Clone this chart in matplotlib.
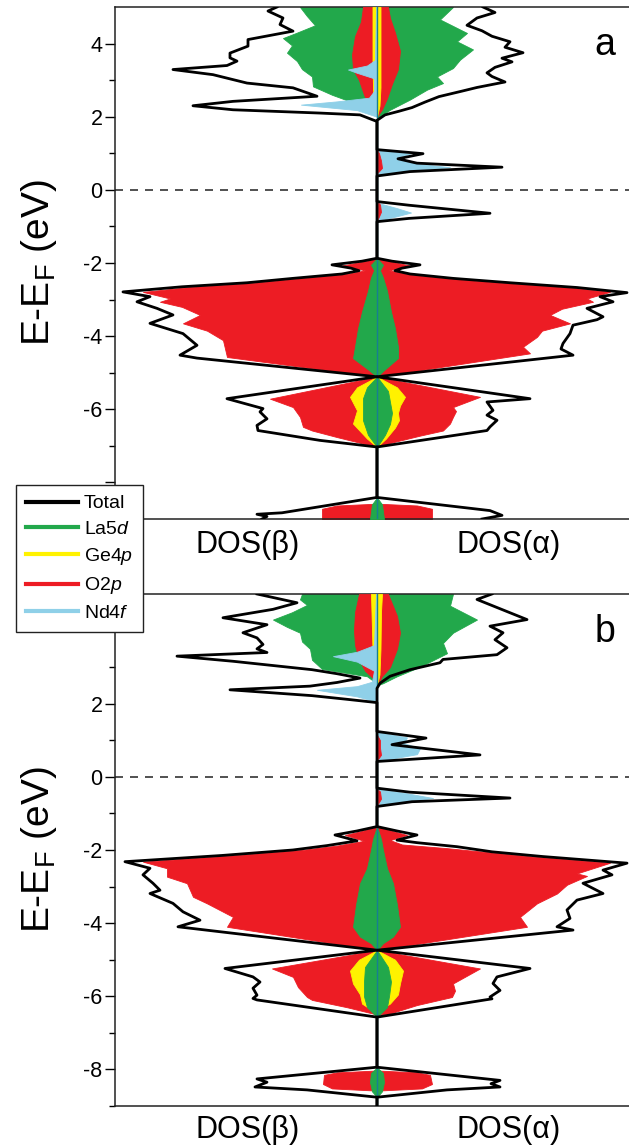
import numpy as np
import matplotlib
matplotlib.use('Agg')
import matplotlib.pyplot as plt
from matplotlib.lines import Line2D

plt.rcParams['font.family'] = ['Liberation Sans', 'DejaVu Sans']
plt.rcParams['mathtext.fontset'] = 'custom'
plt.rcParams['mathtext.rm'] = 'Liberation Sans'
plt.rcParams['mathtext.it'] = 'Liberation Sans:italic'
plt.rcParams['axes.unicode_minus'] = False

# (E - E_F [eV], DOS); alpha plotted right, beta plotted left
# ---------------- panel a ----------------
a_total_alpha = [(-9.0, 10.5), (-8.9, 12.5), (-8.77, 11.3), (-8.41, 0.0),
                 (-7.03, 0.0), (-6.58, 11.0), (-6.48, 11.3), (-6.30, 12.0), (-6.16, 11.0), (-6.03, 11.6),
                 (-5.80, 11.0), (-5.71, 15.3), (-5.11, 0.0),
                 (-4.52, 19.6), (-4.35, 18.4), (-4.20, 18.6), (-3.93, 19.3), (-3.70, 19.6), (-3.55, 22.0),
                 (-3.47, 22.6), (-3.24, 21.0), (-3.06, 23.6), (-2.92, 22.3), (-2.81, 25.0), (-2.67, 20.0),
                 (-2.54, 13.3), (-2.42, 7.6), (-2.30, 3.3), (-2.21, 1.8), (-2.14, 2.5), (-2.05, 4.3),
                 (-1.95, 1.5), (-1.87, 0.0),
                 (-0.87, 0.0), (-0.78, 3.2), (-0.64, 11.3), (-0.42, 3.2), (-0.32, 0.0),
                 (0.38, 0.0), (0.50, 3.3), (0.62, 12.5), (0.73, 4.0), (0.85, 2.1), (0.99, 4.6), (1.10, 0.0),
                 (1.90, 0.0), (2.05, 0.8), (2.15, 2.2), (2.25, 3.5), (2.40, 4.8), (2.55, 6.2), (2.70, 8.5),
                 (2.80, 10.0), (2.95, 12.8), (3.10, 11.5), (3.20, 11.0), (3.35, 11.8), (3.50, 13.5),
                 (3.60, 12.5), (3.75, 14.6), (3.90, 12.8), (4.05, 13.3), (4.20, 11.5), (4.35, 10.5),
                 (4.50, 9.0), (4.70, 10.0), (4.85, 11.8), (5.0, 10.6)]
a_total_beta = [(-9.0, 11.5), (-8.93, 11.0), (-8.87, 12.0), (-8.83, 9.5), (-8.41, 0.0),
                (-7.03, 0.0), (-6.85, 5.7), (-6.58, 11.9), (-6.44, 12.0), (-6.26, 11.0), (-6.07, 11.7),
                (-5.98, 11.4), (-5.71, 15.0), (-5.11, 0.0),
                (-4.60, 18.0), (-4.52, 19.7), (-4.25, 18.0), (-3.93, 19.4), (-3.65, 22.7), (-3.42, 20.4),
                (-3.24, 22.0), (-3.06, 24.0), (-2.92, 22.7), (-2.79, 25.4), (-2.65, 19.5), (-2.54, 13.0),
                (-2.42, 8.4), (-2.30, 3.5), (-2.21, 1.8), (-2.14, 2.6), (-2.05, 4.5), (-1.95, 1.5),
                (-1.87, 0.0),
                (1.87, 0.0), (2.05, 1.7), (2.10, 5.7), (2.19, 14.4), (2.30, 18.4), (2.42, 14.4),
                (2.56, 6.0), (2.79, 8.4), (2.92, 13.0), (3.15, 16.4), (3.29, 20.4), (3.40, 15.0),
                (3.52, 14.0), (3.61, 14.7), (3.74, 14.7), (3.93, 12.9), (4.11, 12.9), (4.34, 8.4),
                (4.52, 9.7), (4.70, 9.4), (4.89, 10.9), (5.0, 10.0)]
a_la5d_alpha = [(-9.0, 0.7), (-8.6, 0.5), (-8.41, 0.0),
                (-7.03, 0.0), (-6.7, 0.8), (-6.4, 1.3), (-6.1, 1.5), (-5.8, 1.3), (-5.5, 1.1), (-5.11, 0.0),
                (-4.93, 0.7), (-4.6, 2.1), (-4.29, 2.1), (-3.79, 1.8), (-3.33, 1.4), (-2.76, 1.0),
                (-2.4, 0.6), (-2.2, 0.3), (-2.05, 0.6), (-1.87, 0.0),
                (1.96, 0.0), (2.19, 1.3), (2.47, 3.3), (2.74, 5.0), (2.92, 6.6), (3.10, 6.0), (3.33, 7.6),
                (3.56, 8.3), (3.84, 9.6), (4.06, 8.0), (4.29, 9.0), (4.66, 6.3), (5.0, 7.6)]
a_la5d_beta = [(-9.0, 0.7), (-8.6, 0.5), (-8.41, 0.0),
               (-7.03, 0.0), (-6.7, 0.9), (-6.3, 1.4), (-6.0, 1.4), (-5.7, 1.4), (-5.4, 1.0), (-5.11, 0.0),
               (-4.93, 0.8), (-4.6, 2.4), (-4.29, 2.2), (-3.79, 1.9), (-3.33, 1.5), (-2.76, 0.9),
               (-2.4, 0.6), (-2.2, 0.3), (-2.05, 0.6), (-1.87, 0.0),
               (2.0, 0.0), (2.2, 0.8), (2.4, 2.5), (2.6, 4.5), (2.83, 6.4), (3.1, 6.5), (3.3, 7.5),
               (3.52, 8.0), (3.75, 9.0), (3.95, 8.5), (4.15, 9.4), (4.3, 8.0), (4.5, 6.2), (4.75, 7.0),
               (5.0, 7.7)]
a_ge4p_alpha = [(-7.03, 0.0), (-6.8, 0.9), (-6.5, 1.8), (-6.3, 2.2), (-6.1, 2.1), (-5.9, 2.3),
                (-5.66, 2.8), (-5.40, 2.0), (-5.11, 0.0), (-4.8, 0.3), (-3.0, 0.3), (-1.87, 0.0),
                (2.0, 0.0), (2.3, 0.25), (2.8, 0.35), (3.5, 0.35), (4.3, 0.35), (5.0, 0.35)]
a_ge4p_beta = [(-7.03, 0.0), (-6.8, 1.0), (-6.39, 2.4), (-6.03, 2.0), (-5.66, 2.7), (-5.40, 2.0),
               (-5.11, 0.0), (-4.8, 0.3), (-3.0, 0.3), (-1.87, 0.0),
               (2.0, 0.0), (2.3, 0.3), (2.8, 0.4), (3.5, 0.45), (4.3, 0.45), (5.0, 0.45)]
a_o2p_alpha = [(-9.0, 5.5), (-8.72, 5.5), (-8.63, 4.0), (-8.58, 0.0),
               (-7.03, 0.0), (-6.90, 1.6), (-6.72, 4.3), (-6.58, 6.6), (-6.39, 7.3), (-6.21, 7.6),
               (-6.05, 7.9), (-5.94, 7.6), (-5.66, 10.3), (-5.11, 0.0),
               (-4.47, 15.3), (-4.29, 14.6), (-4.02, 16.0), (-3.85, 16.5), (-3.65, 19.3), (-3.42, 17.3),
               (-3.25, 18.5), (-3.06, 21.6), (-2.97, 21.0), (-2.79, 23.3), (-2.65, 18.5), (-2.54, 12.5),
               (-2.42, 7.0), (-2.30, 3.0), (-2.20, 1.2), (-2.07, 3.3), (-1.95, 1.2), (-1.87, 0.0),
               (-0.85, 0.0), (-0.6, 0.4), (-0.4, 0.3), (-0.32, 0.0),
               (0.45, 0.0), (0.6, 0.5), (0.8, 0.4), (1.0, 0.2), (1.1, 0.0),
               (2.0, 0.0), (2.2, 0.5), (2.5, 1.0), (2.9, 1.5), (3.3, 2.1), (3.8, 2.3), (4.3, 1.8),
               (4.7, 1.3), (5.0, 1.1)]
a_o2p_beta = [(-9.0, 5.5), (-8.72, 5.5), (-8.63, 4.0), (-8.58, 0.0),
              (-7.03, 0.0), (-6.76, 4.0), (-6.58, 6.5), (-6.48, 7.4), (-6.21, 7.7), (-5.94, 8.4),
              (-5.71, 10.7), (-5.11, 0.0),
              (-4.57, 15.0), (-4.11, 15.4), (-3.85, 17.0), (-3.65, 19.4), (-3.42, 17.7), (-3.20, 19.5),
              (-3.06, 21.7), (-2.97, 20.7), (-2.79, 23.4), (-2.65, 18.5), (-2.54, 12.3), (-2.42, 7.8),
              (-2.30, 3.0), (-2.20, 1.2), (-2.07, 3.5), (-1.95, 1.2), (-1.87, 0.0),
              (2.0, 0.0), (2.3, 0.8), (2.6, 1.3), (3.0, 1.8), (3.3, 2.4), (3.7, 2.5), (4.2, 2.2),
              (4.6, 1.6), (5.0, 1.4)]
a_nd4f_alpha = [(-0.85, 0.0), (-0.72, 2.0), (-0.62, 3.4), (-0.50, 2.0), (-0.35, 0.0),
                (0.38, 0.0), (0.50, 2.0), (0.62, 7.3), (0.70, 4.5), (0.87, 1.8), (0.99, 3.3), (1.10, 0.0)]
a_nd4f_beta = [(2.0, 0.0), (2.18, 2.0), (2.33, 7.6), (2.42, 4.0), (2.52, 0.8), (2.7, 0.3),
               (3.05, 0.3), (3.20, 2.0), (3.29, 2.9), (3.40, 1.0), (3.55, 0.2), (5.0, 0.1)]

# ---------------- panel b ----------------
b_total_alpha = [(-9.0, 0.0), (-8.76, 0.0), (-8.56, 7.0), (-8.48, 12.3), (-8.39, 11.4), (-8.30, 12.3),
                 (-7.94, 0.0),
                 (-6.57, 0.0), (-6.07, 11.5), (-6.02, 11.3), (-5.84, 12.3), (-5.65, 11.6), (-5.47, 12.0),
                 (-5.24, 15.3), (-4.74, 0.0),
                 (-4.19, 19.6), (-4.10, 18.0), (-3.87, 19.3), (-3.64, 19.0), (-3.37, 20.0), (-3.19, 22.6),
                 (-2.91, 20.6), (-2.68, 23.5), (-2.55, 22.6), (-2.36, 25.0), (-2.18, 16.6), (-2.05, 11.5),
                 (-1.91, 8.0), (-1.80, 4.0), (-1.73, 2.0), (-1.59, 4.0), (-1.48, 2.0), (-1.36, 0.0),
                 (-0.81, 0.0), (-0.68, 3.5), (-0.58, 13.3), (-0.42, 3.3), (-0.31, 0.0),
                 (0.42, 0.0), (0.60, 10.3), (0.88, 1.5), (1.06, 4.9), (1.24, 0.0),
                 (2.42, 0.0), (2.56, 0.3), (2.75, 1.3), (2.93, 3.3), (3.12, 6.3), (3.21, 6.6),
                 (3.34, 12.0), (3.53, 13.0), (3.75, 11.8), (3.94, 12.6), (4.12, 11.3), (4.30, 15.0),
                 (4.63, 12.0), (4.85, 10.0), (5.0, 11.5)]
b_total_beta = [(-9.0, 0.0), (-8.76, 0.0), (-8.56, 7.0), (-8.48, 12.2), (-8.35, 11.0), (-8.26, 12.0),
                (-7.94, 0.0),
                (-6.57, 0.0), (-6.10, 12.0), (-6.06, 12.4), (-5.97, 12.0), (-5.78, 12.4), (-5.61, 11.7),
                (-5.47, 12.4), (-5.24, 15.2), (-4.74, 0.0),
                (-4.10, 19.9), (-3.92, 17.7), (-3.69, 19.4), (-3.46, 20.4), (-3.19, 22.7), (-3.10, 21.7),
                (-2.91, 22.4), (-2.68, 23.4), (-2.50, 22.7), (-2.32, 25.2), (-2.15, 15.5), (-2.0, 8.4),
                (-1.88, 5.0), (-1.75, 2.0), (-1.59, 4.2), (-1.48, 2.0), (-1.36, 0.0),
                (2.03, 0.0), (2.12, 3.0), (2.22, 6.5), (2.38, 14.7), (2.48, 6.7), (2.58, 4.0),
                (2.70, 1.7), (2.82, 4.0), (2.93, 6.5), (3.16, 14.4), (3.30, 20.0), (3.40, 11.0),
                (3.50, 12.0), (3.62, 11.4), (3.80, 12.0), (3.94, 13.4), (4.16, 11.0), (4.35, 15.4),
                (4.58, 10.4), (4.76, 8.0), (5.0, 12.0)]
b_la5d_alpha = [(-8.76, 0.0), (-8.6, 0.5), (-8.35, 0.7), (-8.1, 0.6), (-7.94, 0.0),
                (-6.57, 0.0), (-6.3, 1.0), (-6.0, 1.2), (-5.6, 1.4), (-5.2, 1.1), (-4.74, 0.0),
                (-4.55, 0.6), (-4.37, 1.6), (-4.10, 2.3), (-3.5, 2.0), (-2.91, 1.6), (-2.5, 1.0),
                (-2.0, 0.6), (-1.7, 0.4), (-1.36, 0.0),
                (2.50, 0.0), (2.56, 0.6), (2.75, 2.0), (3.01, 4.3), (3.38, 7.0), (3.66, 6.6),
                (3.94, 7.6), (4.30, 10.0), (4.68, 7.3), (5.0, 7.6)]
b_la5d_beta = [(-8.76, 0.0), (-8.6, 0.5), (-8.35, 0.7), (-8.1, 0.6), (-7.94, 0.0),
               (-6.57, 0.0), (-6.3, 1.0), (-6.0, 1.3), (-5.6, 1.3), (-5.2, 1.2), (-4.74, 0.0),
               (-4.55, 0.6), (-4.37, 1.7), (-4.10, 2.4), (-3.5, 2.1), (-2.91, 1.7), (-2.5, 1.0),
               (-2.0, 0.6), (-1.7, 0.4), (-1.36, 0.0),
               (2.55, 0.0), (2.75, 1.0), (2.95, 5.5), (3.2, 6.5), (3.5, 6.7), (3.7, 7.5), (3.94, 7.7),
               (4.1, 9.0), (4.30, 10.4), (4.5, 8.5), (4.7, 7.0), (4.85, 7.7), (5.0, 7.5)]
b_ge4p_alpha = [(-6.57, 0.0), (-6.35, 0.4), (-6.2, 1.3), (-5.95, 2.1), (-5.65, 2.3), (-5.3, 2.6),
                (-5.0, 1.8), (-4.74, 0.0), (-4.5, 0.3), (-2.0, 0.3), (-1.36, 0.0),
                (2.50, 0.0), (2.8, 0.25), (3.5, 0.35), (4.5, 0.4), (5.0, 0.5)]
b_ge4p_beta = [(-6.57, 0.0), (-6.4, 0.4), (-6.2, 1.5), (-5.95, 1.7), (-5.65, 2.4), (-5.3, 2.7),
               (-5.0, 1.8), (-4.74, 0.0), (-4.5, 0.3), (-2.0, 0.3), (-1.36, 0.0),
               (2.60, 0.0), (3.0, 0.4), (4.0, 0.5), (5.0, 0.6)]
b_o2p_alpha = [(-8.58, 0.0), (-8.52, 4.5), (-8.40, 5.5), (-8.15, 5.3), (-8.08, 4.0), (-8.03, 0.0),
               (-6.50, 0.0), (-6.47, 1.3), (-6.24, 4.0), (-6.02, 7.5), (-5.85, 7.8), (-5.65, 7.6),
               (-5.24, 10.3), (-4.74, 0.0),
               (-4.10, 15.0), (-3.83, 14.3), (-3.46, 16.0), (-3.19, 18.0), (-2.95, 19.0), (-2.71, 21.0),
               (-2.64, 20.0), (-2.35, 23.3), (-2.18, 15.5), (-1.95, 7.0), (-1.85, 2.5), (-1.73, 1.3),
               (-1.59, 3.0), (-1.48, 1.5), (-1.36, 0.0),
               (-0.78, 0.0), (-0.6, 0.4), (-0.4, 0.3), (-0.33, 0.0),
               (0.45, 0.0), (0.6, 0.4), (0.8, 0.3), (1.0, 0.3), (1.15, 0.0),
               (2.50, 0.0), (2.75, 0.5), (3.0, 1.3), (3.5, 2.0), (3.94, 2.3), (4.4, 2.0), (5.0, 1.1)]
b_o2p_beta = [(-8.58, 0.0), (-8.52, 4.5), (-8.40, 5.4), (-8.15, 5.3), (-8.08, 4.0), (-8.03, 0.0),
              (-6.50, 0.0), (-6.3, 3.0), (-6.1, 6.5), (-6.02, 7.0), (-5.75, 7.9), (-5.47, 8.4),
              (-5.24, 10.5), (-4.74, 0.0),
              (-4.10, 15.0), (-3.83, 14.4), (-3.46, 17.0), (-3.28, 18.4), (-2.91, 19.0), (-2.73, 21.0),
              (-2.50, 21.0), (-2.32, 23.4), (-2.15, 14.5), (-2.0, 7.5), (-1.88, 4.0), (-1.75, 1.3),
              (-1.59, 3.2), (-1.48, 1.5), (-1.36, 0.0),
              (2.60, 0.0), (2.9, 1.2), (3.2, 1.8), (3.6, 2.2), (4.0, 2.3), (4.5, 2.2), (5.0, 1.8)]
b_nd4f_alpha = [(-0.78, 0.0), (-0.66, 3.0), (-0.58, 5.6), (-0.45, 3.0), (-0.33, 0.0),
                (0.43, 0.0), (0.50, 1.5), (0.62, 4.0), (0.78, 4.3), (0.92, 2.7), (1.08, 3.0), (1.22, 0.0)]
b_nd4f_beta = [(2.05, 0.0), (2.20, 2.0), (2.38, 6.0), (2.48, 2.0), (2.6, 0.5), (2.9, 0.3),
               (3.15, 2.0), (3.30, 4.4), (3.42, 2.0), (3.6, 0.3), (5.0, 0.1)]

series_labels = ['Total', 'La5$\\mathit{d}$', 'Ge4$\\mathit{p}$', 'O2$\\mathit{p}$', 'Nd4$\\mathit{f}$']
series_colors = ['black', '#22a84b', '#fff200', '#ed1c24', '#8fd0e8']
yticks = [-8, -6, -4, -2, 0, 2, 4]
a_ticklabels = ['', '-6', '-4', '-2', '0', '2', '4']
b_ticklabels = ['-8', '-6', '-4', '-2', '0', '2', '']

# drawing order differs for valence band / gap states / conduction band
zorders = {'La5d': (4, 5, 2), 'Ge4p': (3, 4, 4), 'O2p': (2, 3, 3), 'Nd4f': (5, 2, 5)}


def unpack(pairs):
    arr = np.asarray(pairs, dtype=float)
    return arr[:, 0], arr[:, 1]


def fill_part(ax, pairs, sign, color, zo):
    E, d = unpack(pairs)
    zones = [E < -1.1, (E >= -1.1) & (E <= 1.5), E > 1.5]
    for mask, z in zip(zones, zo):
        if mask.any():
            ax.fill_betweenx(E, 0, sign * d, where=mask, color=color, lw=0.6, zorder=z)


def draw_panel(ax, tot_a, tot_b, parts, ticklabels, letter, dos_y):
    for name, pa, pb, color in parts:
        fill_part(ax, pa, 1, color, zorders[name])
        fill_part(ax, pb, -1, color, zorders[name])
    ax.axvline(0, color='#177f92', lw=1.0, zorder=6)
    for pairs, sign in [(tot_a, 1), (tot_b, -1)]:
        E, d = unpack(pairs)
        ax.plot(sign * d, E, color='black', lw=2.0, zorder=7, solid_joinstyle='round')
    ax.axhline(0, color='#333333', lw=1.2, ls=(0, (4.8, 4.2)), zorder=1)

    ax.set_xlim(-26.2, 25.2)
    ax.set_ylim(-9, 5)
    ax.set_xticks([])
    ax.set_yticks(yticks, labels=ticklabels)
    ax.set_yticks(np.arange(-9, 5, 2), minor=True)
    ax.tick_params(axis='y', which='major', direction='out', length=7, width=1, labelsize=15.5, pad=2)
    ax.tick_params(axis='y', which='minor', direction='out', length=4.3, width=1)
    ax.spines['right'].set_visible(False)
    for s in ['left', 'top', 'bottom']:
        ax.spines[s].set_linewidth(1.1)
        ax.spines[s].set_color('#222222')
    ax.set_ylabel('E-E$_\\mathregular{F}$ (eV)', fontsize=28)
    ax.yaxis.set_label_coords(-0.108, 0.5)
    ax.text(0.953, 0.926, letter, transform=ax.transAxes, ha='center', va='center', fontsize=27)
    tr = ax.get_xaxis_transform()
    ax.text(-12.9, dos_y, 'DOS(β)', transform=tr, ha='center', va='center', fontsize=22)
    ax.text(13.2, dos_y, 'DOS(α)', transform=tr, ha='center', va='center', fontsize=22)


fig = plt.figure(figsize=(6.29, 11.48), dpi=100)
ax_a = fig.add_axes([0.1828, 0.5479, 0.8172, 0.446])
ax_b = fig.add_axes([0.1828, 0.0366, 0.8172, 0.446])

parts_a = [('O2p', a_o2p_alpha, a_o2p_beta, series_colors[3]),
           ('Ge4p', a_ge4p_alpha, a_ge4p_beta, series_colors[2]),
           ('La5d', a_la5d_alpha, a_la5d_beta, series_colors[1]),
           ('Nd4f', a_nd4f_alpha, a_nd4f_beta, series_colors[4])]
parts_b = [('O2p', b_o2p_alpha, b_o2p_beta, series_colors[3]),
           ('Ge4p', b_ge4p_alpha, b_ge4p_beta, series_colors[2]),
           ('La5d', b_la5d_alpha, b_la5d_beta, series_colors[1]),
           ('Nd4f', b_nd4f_alpha, b_nd4f_beta, series_colors[4])]

draw_panel(ax_a, a_total_alpha, a_total_beta, parts_a, a_ticklabels, 'a', -0.051)
draw_panel(ax_b, b_total_alpha, b_total_beta, parts_b, b_ticklabels, 'b', -0.047)

handles = [Line2D([], [], color=c, lw=3) for c in series_colors]
leg = fig.legend(handles, series_labels, loc='upper left',
                 bbox_to_anchor=(16 / 629, 1 - 485 / 1148), borderaxespad=0, fontsize=14,
                 frameon=True, fancybox=False, framealpha=1, edgecolor='#222222',
                 handlelength=2.7, handletextpad=0.3, labelspacing=0.42, borderpad=0.5)
leg.get_frame().set_linewidth(1.0)
leg.set_zorder(20)

fig.savefig('out.png', dpi=100)
